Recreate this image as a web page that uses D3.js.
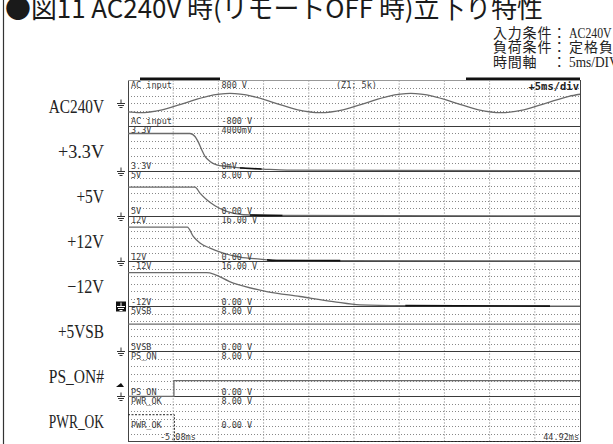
<!DOCTYPE html>
<html>
<head>
<meta charset="utf-8">
<script src="https://cdn.jsdelivr.net/npm/d3@7"></script>
<style>
  html, body { margin: 0; padding: 0; background: #fff; }
  svg { display: block; }
  .scope text { font-family: "DejaVu Sans Mono", monospace; font-size: 8.5px; fill: #3c3c3c; }
</style>
</head>
<body>
<svg width="613" height="444"></svg>
<script>
var title = "●図11 AC240V 時(リモートOFF 時)立下り特性";
var noteKeys = ["入力条件：", "負荷条件：", "時間軸　："];
var noteValues = ["AC240V", "定格負荷", "5ms/DIV"];
var channels = ["AC240V", "+3.3V", "+5V", "+12V", "−12V", "+5VSB", "PS_ON#", "PWR_OK"];
var probeNames = ["AC input", "3.3V", "5V", "12V", "-12V", "5VSB", "PS_ON", "PWR_OK"];
var topLabels = ["800 V", "4000mV", "8.00 V", "16.00 V", "16.00 V", "8.00 V", "8.00 V", "8.00 V"];
var bottomLabels = ["-800 V", "0mV", "0.00 V", "0.00 V", "0.00 V", "0.00 V", "0.00 V", "0.00 V"];
var ranges = [[-800, 800], [0, 4000], [0, 8], [0, 16], [0, 16], [0, 8], [0, 8], [0, 8]];
var timeSpan = [-5.08, 44.92];
var timeLabels = ["-5.08ms", "44.92ms"];
var zoomLabel = "(Z1: 5k)";
var rateLabel = "+5ms/div";
var trigLevel = 2.0;

// waveforms: [ms, value in channel units]
var acIn = [[-5.08, -313], [-3.8, -340], [-1.3, -240], [1.2, 0], [3.7, 240], [6.2, 340], [8.7, 240],
  [11.2, 0], [13.7, -240], [16.2, -340], [18.7, -240], [21.2, 0], [23.7, 240], [26.2, 340], [28.7, 240],
  [31.2, 0], [33.7, -240], [36.2, -340], [38.7, -240], [41.2, 0], [43.7, 240], [44.92, 313]];
var v33 = [[-5.08, 3300], [1.78, 3300], [2.33, 3040], [2.66, 2600], [3.07, 1860], [3.44, 1270], [3.99, 830],
  [4.73, 530], [5.84, 380], [7.64, 240], [9.85, 150], [12.5, 60], [44.92, 0]];
var v5 = [[-5.08, 5.1], [2.33, 5.1], [2.88, 4.04], [3.63, 2.86], [4.54, 1.79], [5.84, 0.78], [7.67, 0.2],
  [11.92, 0.07], [44.92, 0]];
var v12 = [[-5.08, 12.0], [1.48, 12.0], [2.14, 8.7], [2.88, 6.35], [3.99, 4.58], [5.46, 2.8], [7.31, 1.38],
  [9.52, 0.67], [11.37, 0.18], [18.37, 0.15], [44.92, 0]];
var vm12 = [[-5.08, 11.9], [3.63, 11.9], [6.57, 8.16], [10.26, 5.18], [13.95, 3.41], [17.63, 1.63],
  [20.58, 0.46], [25.56, 0.18], [41.6, 0], [44.92, 0]];
var v5sb = [[-5.08, 4.8], [44.92, 4.8]];
var psOn = [[-5.08, 0], [0, 0], [0, 2.8], [44.92, 2.8]];
var pwrOk = [[-5.08, 4.75], [0.05, 4.75], [0.05, 0], [44.92, 0]];
var waves = [acIn, v33, v5, v12, vm12, v5sb, psOn, pwrOk];
// stretches of a trace that the scope drew darker: [channel, from ms, to ms]
var darkSpans = [[1, 7.3, 9.7], [2, 8.4, 12.0], [3, 10.3, 18.4], [4, 25.6, 41.6]];

(function() {
  'use strict';

  var svg = d3.select("svg"),
      left = 128, right = 580, top = 80.5, bottom = 441.5;

  var x = d3.scaleLinear().domain(timeSpan).range([left, right]);
  var band = d3.scaleBand().domain(d3.range(channels.length)).range([top, bottom]);
  var h = band.bandwidth();
  var ys = ranges.map(function(r, i) {
    return d3.scaleLinear().domain(r).range([band(i) + h, band(i)]);
  });

  // page frame line + title
  svg.append("line").attr("x1", 3.5).attr("x2", 3.5).attr("y1", 0).attr("y2", 444)
    .attr("stroke", "#333").attr("stroke-width", 1.2);

  svg.append("text")
    .attr("x", 5).attr("y", 17.5)
    .attr("textLength", 538).attr("lengthAdjust", "spacingAndGlyphs")
    .style("font-family", "'Noto Sans CJK JP', sans-serif")
    .style("font-size", "26px").style("fill", "#1a1a1a")
    .text(title);

  // test conditions, top right (runs off the page edge like the source)
  svg.selectAll(".nkey").data(noteKeys).enter().append("text")
    .attr("x", 493).attr("y", function(d, i) { return 37.5 + i * 14.5; })
    .style("font-family", "'Noto Sans CJK JP', sans-serif")
    .style("font-size", "14px").style("letter-spacing", "0.8px").style("fill", "#222")
    .text(function(d) { return d; });
  svg.selectAll(".nval").data(noteValues).enter().append("text")
    .attr("x", 569).attr("y", function(d, i) { return 37.5 + i * 14.5; })
    .attr("textLength", function(d) { return /^[\x00-\x7f]+$/.test(d) ? d.length * 7.1 : null; })
    .attr("lengthAdjust", "spacingAndGlyphs")
    .style("font-family", "'Liberation Serif', 'Noto Sans CJK JP', serif")
    .style("font-size", "14px").style("letter-spacing", function(d) { return /^[\x00-\x7f]+$/.test(d) ? "0" : "1px"; })
    .style("fill", "#222")
    .text(function(d) { return d; });

  // channel names on the left
  svg.selectAll(".chname").data(channels).enter().append("text")
    .attr("class", "chname")
    .attr("x", function(d) { return 104 - d.length * 9.2; })
    .attr("y", function(d, i) { return band(i) + h / 2 + 9.5; })
    .attr("textLength", function(d) { return d.length * 9.2; })
    .attr("lengthAdjust", "spacingAndGlyphs")
    .style("font-family", "'Liberation Serif', serif")
    .style("font-size", "19px").style("fill", "#222")
    .text(function(d) { return d; });

  var scope = svg.append("g").attr("class", "scope");

  // grid
  var divs = d3.range(1, 10).map(function(k) { return timeSpan[0] + k * 5; });
  scope.selectAll(".vgrid").data(divs).enter().append("line")
    .attr("x1", x).attr("x2", x).attr("y1", top).attr("y2", bottom)
    .attr("stroke", "#777").attr("stroke-dasharray", "1,2");

  var rows = [];
  channels.forEach(function(c, i) {
    for (var j = 1; j < 6; j++) rows.push(band(i) + h * j / 6);
  });
  scope.selectAll(".hgrid").data(rows).enter().append("line")
    .attr("x1", left).attr("x2", right)
    .attr("y1", function(d) { return Math.round(d) + 0.5; })
    .attr("y2", function(d) { return Math.round(d) + 0.5; })
    .attr("stroke", "#888").attr("stroke-dasharray", "1,2");

  // channel separators and frame
  scope.selectAll(".sep").data(d3.range(1, channels.length)).enter().append("line")
    .attr("x1", left).attr("x2", right)
    .attr("y1", function(i) { return Math.round(band(i)) + 0.5; })
    .attr("y2", function(i) { return Math.round(band(i)) + 0.5; })
    .attr("stroke", "#3a3a3a");
  scope.append("rect")
    .attr("x", left + 0.5).attr("y", top).attr("width", right - left).attr("height", bottom - top)
    .attr("fill", "none").attr("stroke", "#444");
  scope.append("line").attr("x1", left).attr("x2", right).attr("y1", top).attr("y2", top)
    .attr("stroke", "#999");

  // marker bars above the screen
  scope.selectAll(".bar").data([[140, 220], [466, 580]]).enter().append("rect")
    .attr("x", function(d) { return d[0]; }).attr("y", 77.5)
    .attr("width", function(d) { return d[1] - d[0]; }).attr("height", 2.5)
    .attr("fill", "#111");

  // waveforms
  var lines = waves.map(function(data, i) {
    return d3.line()
      .x(function(d) { return x(d[0]); })
      .y(function(d) { return ys[i](d[1]); })
      .curve(i >= 6 ? d3.curveLinear : d3.curveMonotoneX);
  });
  waves.forEach(function(data, i) {
    scope.append("path")
      .datum(data)
      .attr("d", lines[i])
      .attr("fill", "none")
      .attr("stroke", i === 7 ? "#222" : "#6a6a6a")
      .attr("stroke-width", i === 7 ? 1 : 1.3)
      .attr("stroke-dasharray", i === 7 ? "2,1.5" : null);
  });

  var defs = svg.append("defs");
  darkSpans.forEach(function(s, k) {
    defs.append("clipPath").attr("id", "dark" + k)
      .append("rect")
      .attr("x", x(s[1])).attr("width", x(s[2]) - x(s[1]))
      .attr("y", band(s[0])).attr("height", h + 2);
    scope.append("path")
      .datum(waves[s[0]])
      .attr("d", lines[s[0]])
      .attr("clip-path", "url(#dark" + k + ")")
      .attr("fill", "none").attr("stroke", "#111").attr("stroke-width", 1.6);
  });

  // labels inside each channel
  var labelTop = function(i) { return band(i) + 7.5; };
  var labelBottom = function(i) { return i === channels.length - 1 ? band(i) + h - 14 : band(i) + h - 1.5; };
  scope.selectAll(".pt").data(probeNames).enter().append("text")
    .attr("x", left + 3).attr("y", function(d, i) { return labelTop(i); })
    .text(function(d) { return d; });
  scope.selectAll(".pb").data(probeNames).enter().append("text")
    .attr("x", left + 3).attr("y", function(d, i) { return labelBottom(i); })
    .text(function(d) { return d; });
  scope.selectAll(".vt").data(topLabels).enter().append("text")
    .attr("x", x(divs[1]) + 3).attr("y", function(d, i) { return labelTop(i); })
    .text(function(d) { return d; });
  scope.selectAll(".vb").data(bottomLabels).enter().append("text")
    .attr("x", x(divs[1]) + 3).attr("y", function(d, i) { return labelBottom(i); })
    .text(function(d) { return d; });

  scope.append("text").attr("x", 336).attr("y", labelTop(0)).text(zoomLabel);
  scope.append("text").attr("x", right - 1).attr("y", top + 9)
    .attr("text-anchor", "end").style("font-size", "10.5px").style("font-weight", "bold")
    .style("fill", "#222").text(rateLabel);
  scope.append("text").attr("x", 160).attr("y", bottom - 2).text(timeLabels[0]);
  scope.append("text").attr("x", right - 1).attr("y", bottom - 2)
    .attr("text-anchor", "end").text(timeLabels[1]);

  // ground markers at each channel's zero level
  function ground(g, y0, fill) {
    g.append("path")
      .attr("d", "M121," + (y0 - 4) + "V" + y0 + "M117," + y0 + "H125M118," + (y0 + 2) +
        "H124M119.5," + (y0 + 4) + "H122.5")
      .attr("stroke", fill).attr("stroke-width", 1).attr("fill", "none");
  }
  ys.forEach(function(y, i) {
    if (i === channels.length - 1) return;
    var y0 = Math.round(y(0)) + 0.5;
    if (i === 4) {
      scope.append("rect").attr("x", 116).attr("y", y0 - 5).attr("width", 10).attr("height", 10)
        .attr("fill", "#111");
      ground(scope, y0, "#fff");
    } else {
      ground(scope, y0, "#333");
    }
  });

  // trigger level marker on PS_ON
  var ty = ys[6](trigLevel);
  scope.append("path")
    .attr("d", "M116," + (ty + 2) + "L124," + (ty + 2) + "L121," + (ty - 2) + "Z")
    .attr("fill", "#111");
})();
</script>
</body>
</html>
